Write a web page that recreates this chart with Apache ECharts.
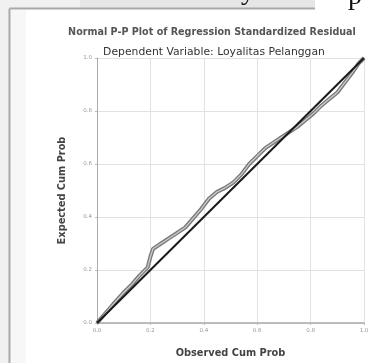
<!DOCTYPE html>
<html>
<head>
<meta charset="utf-8">
<script src="https://cdn.jsdelivr.net/npm/echarts@6/dist/echarts.min.js"></script>
<style>
    html, body { margin: 0; padding: 0; background: #fff; }
    #chart { width: 384px; height: 363px; }
</style>
</head>
<body>
<div id="chart"></div>
<script>
    'use strict';

    // observed / expected cumulative probabilities
    const observedCum = [0, 0.03, 0.06, 0.1, 0.13, 0.16, 0.19, 0.2, 0.21, 0.24, 0.27, 0.3, 0.33, 0.36,
        0.39, 0.42, 0.45, 0.48, 0.51, 0.54, 0.57, 0.6, 0.63, 0.66, 0.69, 0.72, 0.75, 0.78, 0.81,
        0.84, 0.87, 0.9, 0.93, 0.96, 0.98, 1.0];
    const expectedCum = [0, 0.035, 0.07, 0.115, 0.145, 0.18, 0.21, 0.25, 0.28, 0.3, 0.32, 0.34, 0.36, 0.395,
        0.43, 0.47, 0.495, 0.51, 0.53, 0.56, 0.6, 0.63, 0.66, 0.68, 0.7, 0.72, 0.74, 0.765, 0.79,
        0.82, 0.845, 0.87, 0.91, 0.95, 0.98, 1.0];
    const refLineX = [0, 1];
    const refLineY = [0, 1];

    const ppData = observedCum.map((x, i) => [x, expectedCum[i]]);
    const refData = refLineX.map((x, i) => [x, refLineY[i]]);

    const tickLabel = {
        fontSize: 5.5,
        color: '#999',
        fontFamily: 'DejaVu Sans',
        formatter: v => v.toFixed(1)
    };
    const axisName = { fontSize: 9.8, fontWeight: 'bold', color: '#444', fontFamily: 'DejaVu Sans' };

    let chart = echarts.init(document.getElementById('chart'));
    let option = {
        animation: false,
        backgroundColor: '#fff',
        graphic: [
            // page strip above / left of the frame
            { type: 'rect', shape: { x: 0, y: 0, width: 384, height: 8 }, style: { fill: '#f1f1f1' }, silent: true },
            { type: 'rect', shape: { x: 80, y: 0, width: 235, height: 8 }, style: { fill: '#e6e6e6' }, silent: true },
            { type: 'rect', shape: { x: 315, y: 0, width: 69, height: 8 }, style: { fill: '#fff' }, silent: true },
            { type: 'rect', shape: { x: 0, y: 0, width: 9, height: 363 }, style: { fill: '#f1f1f1' }, silent: true },
            { type: 'rect', shape: { x: 11, y: 10, width: 15, height: 353 }, style: { fill: '#f7f7f7' }, silent: true },
            { type: 'line', shape: { x1: 9.5, y1: 8.5, x2: 315, y2: 8.5 }, style: { stroke: '#a8a8a8', lineWidth: 2 }, silent: true },
            { type: 'line', shape: { x1: 9.5, y1: 8.5, x2: 9.5, y2: 363 }, style: { stroke: '#a8a8a8', lineWidth: 2 }, silent: true },
            { type: 'text', left: 241, top: -22, style: { text: 'y', font: '28px "Liberation Serif"', fill: '#111' }, silent: true },
            { type: 'text', left: 348, top: -17, style: { text: 'p', font: '28px "Liberation Serif"', fill: '#111' }, silent: true }
        ],
        title: [{
            text: 'Normal P-P Plot of Regression Standardized Residual',
            left: 207, top: 22, textAlign: 'center',
            textStyle: { fontSize: 9.6, fontWeight: 'bold', color: '#555', fontFamily: 'DejaVu Sans' }
        }, {
            text: 'Dependent Variable: Loyalitas Pelanggan',
            left: 209, top: 42, textAlign: 'center',
            textStyle: { fontSize: 10.8, fontWeight: 'normal', color: '#333', fontFamily: 'DejaVu Sans' }
        }],
        grid: { left: 97, right: 20, top: 58, bottom: 40 },
        xAxis: {
            type: 'value', min: 0, max: 1, interval: 0.2,
            name: 'Observed Cum Prob', nameLocation: 'middle', nameGap: 25,
            nameTextStyle: axisName,
            axisLine: { show: true, lineStyle: { color: '#aaa', width: 1.5 } },
            axisTick: { show: true, length: 2, lineStyle: { color: '#bbb' } },
            axisLabel: Object.assign({ margin: 5 }, tickLabel),
            splitLine: { show: true, lineStyle: { color: '#e2e2e2', width: 1 } }
        },
        yAxis: {
            type: 'value', min: 0, max: 1, interval: 0.2,
            name: 'Expected Cum Prob', nameLocation: 'middle', nameGap: 30,
            nameTextStyle: axisName,
            axisLine: { show: true, lineStyle: { color: '#aaa', width: 1 } },
            axisTick: { show: true, length: 2, lineStyle: { color: '#bbb' } },
            axisLabel: Object.assign({ margin: 5 }, tickLabel),
            splitLine: { show: true, lineStyle: { color: '#e2e2e2', width: 1 } }
        },
        series: [{
            type: 'line', data: ppData, symbol: 'none', silent: true,
            lineStyle: { color: '#7a7a7a', width: 4 }
        }, {
            type: 'line', data: ppData, symbol: 'none', silent: true,
            lineStyle: { color: '#cfcfcf', width: 1.2 }
        }, {
            type: 'line', data: refData, symbol: 'none', silent: true,
            lineStyle: { color: '#1a1a1a', width: 2 }
        }]
    };
    chart.setOption(option);
</script>
</body>
</html>
